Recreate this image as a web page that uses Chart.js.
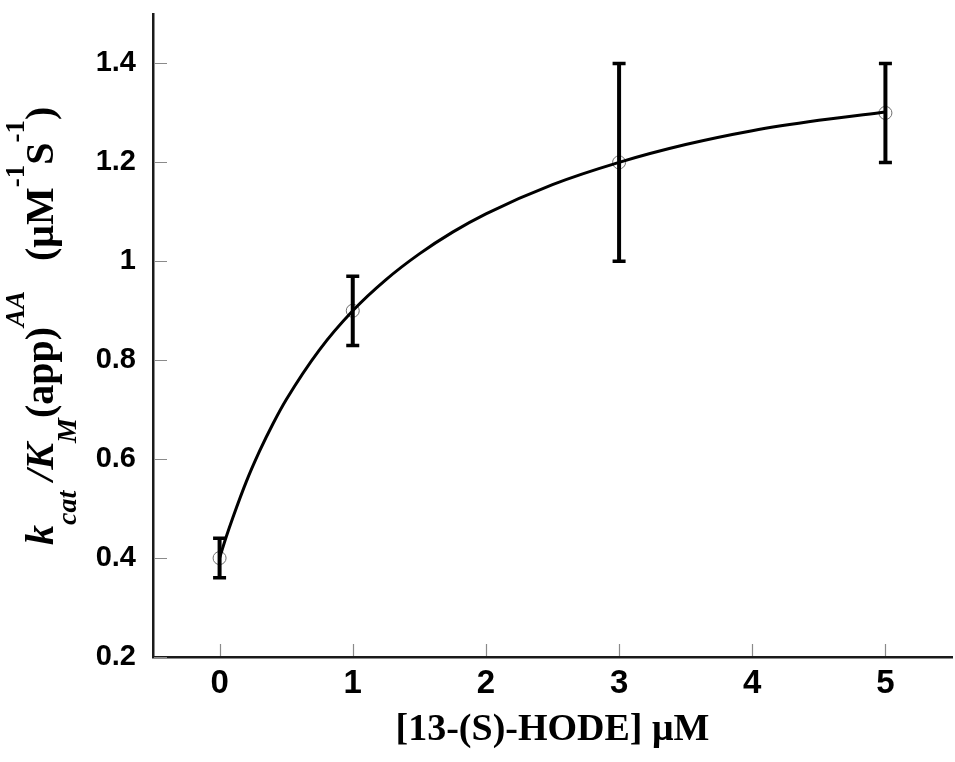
<!DOCTYPE html>
<html>
<head>
<meta charset="utf-8">
<script src="https://cdn.jsdelivr.net/npm/chart.js@4/dist/chart.umd.min.js"></script>
<style>
  html, body { margin: 0; padding: 0; background: #fff; }
  canvas { display: block; }
</style>
</head>
<body>
<canvas id="chart" width="955" height="762"></canvas>
<script>
// measured points: [13-(S)-HODE] (uM) vs kcat/KM
const hodeConc = [0, 1, 3, 5];
const rate = [0.40, 0.90, 1.20, 1.30];
const errLow = [0.36, 0.83, 1.00, 1.20];
const errHigh = [0.44, 0.97, 1.40, 1.40];

// fitted curve
const fitX = [0, 0.05, 0.1, 0.2, 0.3, 0.4, 0.5, 0.75, 1, 1.25, 1.5, 1.75, 2, 2.5, 3, 3.5, 4, 4.5, 5];
const fitY = [0.400, 0.443, 0.482, 0.554, 0.616, 0.671, 0.720, 0.821, 0.900, 0.963, 1.015, 1.059, 1.096, 1.155, 1.200, 1.236, 1.264, 1.285, 1.302];

const xTicks = [0, 1, 2, 3, 4, 5];
const yTicks = [0.2, 0.4, 0.6, 0.8, 1.0, 1.2, 1.4];
const yTickLabels = ['0.2', '0.4', '0.6', '0.8', '1', '1.2', '1.4'];

const SANS = "'Liberation Sans', Arial, sans-serif";
const SERIF = "'Liberation Serif', 'Times New Roman', serif";

// y title pieces: [text, size, style, shift]  shift: 0 base, 1 sub, -1 sup
const yTitleParts = [
  ['k', 40, 'italic bold', 0],
  ['cat', 28, 'italic bold', 1],
  [' /K', 40, 'italic bold', 0],
  ['M', 28, 'italic bold', 1],
  ['(app)', 40, 'bold', 0],
  ['AA', 27, 'italic bold', -1],
  ['   (\u03bcM', 40, 'bold', 0],
  ['-1', 27, 'bold', -1],
  ['S', 40, 'bold', 0],
  ['-1', 27, 'bold', -1],
  [')', 40, 'bold', 0]
];

const errorBars = {
  id: 'errorBars',
  afterDatasetsDraw(chart) {
    const { ctx, scales: { x, y } } = chart;
    ctx.save();
    ctx.strokeStyle = '#000';
    ctx.lineCap = 'butt';
    hodeConc.forEach((c, i) => {
      const px = x.getPixelForValue(c);
      const lo = y.getPixelForValue(errLow[i]);
      const hi = y.getPixelForValue(errHigh[i]);
      ctx.lineWidth = 4;
      ctx.beginPath(); ctx.moveTo(px, lo); ctx.lineTo(px, hi); ctx.stroke();
      ctx.lineWidth = 3.5;
      ctx.beginPath();
      ctx.moveTo(px - 6.5, lo); ctx.lineTo(px + 6.5, lo);
      ctx.moveTo(px - 6.5, hi); ctx.lineTo(px + 6.5, hi);
      ctx.stroke();
    });
    ctx.restore();
  }
};

const innerTicks = {
  id: 'innerTicks',
  afterDraw(chart) {
    const { ctx, chartArea: a, scales: { x, y } } = chart;
    ctx.save();
    ctx.strokeStyle = '#8a8a8a';
    ctx.lineWidth = 1.2;
    ctx.beginPath();
    xTicks.forEach(v => {
      const px = Math.round(x.getPixelForValue(v)) + 0.5;
      ctx.moveTo(px, a.bottom - 1); ctx.lineTo(px, a.bottom - 13);
    });
    yTicks.forEach(v => {
      const py = Math.round(y.getPixelForValue(v)) + 0.5;
      ctx.moveTo(a.left + 1, py); ctx.lineTo(a.left + 14, py);
    });
    ctx.stroke();
    ctx.restore();
  }
};

const yTitle = {
  id: 'yTitle',
  afterDraw(chart) {
    const { ctx } = chart;
    ctx.save();
    ctx.translate(53, 545);
    ctx.rotate(-Math.PI / 2);
    ctx.fillStyle = '#000';
    ctx.textBaseline = 'alphabetic';
    let pos = 0;
    for (const [t, size, style, shift] of yTitleParts) {
      ctx.font = `${style} ${size}px ${SERIF}`;
      const dy = shift === 1 ? 23 : shift === -1 ? -29 : 0;
      ctx.fillText(t, pos, dy);
      pos += ctx.measureText(t).width;
    }
    ctx.restore();
  }
};

new Chart(document.getElementById('chart'), {
  type: 'scatter',
  data: {
    datasets: [
      {
        type: 'line',
        data: fitX.map((v, i) => ({ x: v, y: fitY[i] })),
        borderColor: '#000',
        borderWidth: 3,
        pointRadius: 0,
        fill: false,
        cubicInterpolationMode: 'monotone'
      },
      {
        data: hodeConc.map((v, i) => ({ x: v, y: rate[i] })),
        pointStyle: 'circle',
        pointRadius: 6.5,
        borderColor: '#6e6e6e',
        backgroundColor: 'rgba(0,0,0,0)',
        borderWidth: 1
      }
    ]
  },
  options: {
    responsive: false,
    animation: false,
    devicePixelRatio: 1,
    layout: { autoPadding: false, padding: { top: 14, right: 3, left: 0, bottom: 0 } },
    plugins: { legend: { display: false }, tooltip: { enabled: false } },
    scales: {
      x: {
        type: 'linear',
        min: -0.5, max: 5.5,
        afterBuildTicks: s => { s.ticks = xTicks.map(v => ({ value: v })); },
        afterFit: s => { s.height = 105; s.paddingLeft = 0; s.paddingRight = 0; },
        grid: { display: false, drawTicks: false },
        border: { display: true, color: '#1a1a1a', width: 2.5 },
        ticks: { color: '#000', padding: 7, font: { family: SANS, weight: 'bold', size: 33 } },
        title: {
          display: true, text: '[13-(S)-HODE] \u03bcM', color: '#000',
          font: { family: SERIF, weight: 'bold', size: 38 },
          padding: { top: 0, bottom: 9 }
        }
      },
      y: {
        type: 'linear',
        min: 0.2, max: 1.5,
        afterBuildTicks: s => { s.ticks = yTicks.map(v => ({ value: v })); },
        afterFit: s => { s.width = 153; s.paddingTop = 0; s.paddingBottom = 0; },
        grid: { display: false, drawTicks: false },
        border: { display: true, color: '#1a1a1a', width: 2.5 },
        ticks: {
          color: '#000', padding: 17,
          font: { family: SANS, weight: 'bold', size: 29 },
          callback: (v) => yTickLabels[yTicks.findIndex(t => Math.abs(t - v) < 1e-9)] ?? ''
        }
      }
    }
  },
  plugins: [errorBars, innerTicks, yTitle]
});
</script>
</body>
</html>
